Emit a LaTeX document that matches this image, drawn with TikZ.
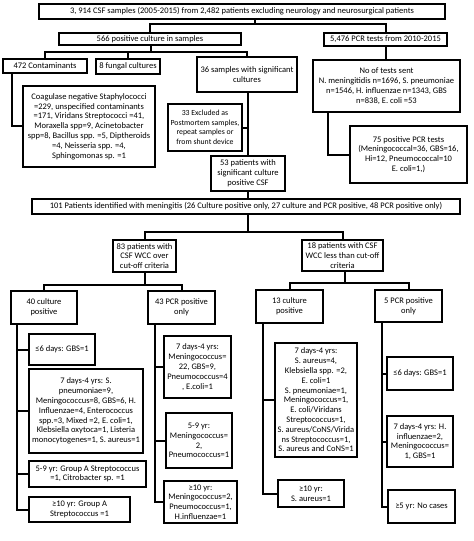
\documentclass[tikz,border=0pt]{standalone}
\usepackage{fontspec}
\setmainfont{Carlito}
\begin{document}
\begin{tikzpicture}[x=1pt,y=-1pt,
  box/.style={draw, line width=2pt, align=center, inner sep=1pt, font=\fontsize{8.5}{9.8}\selectfont},
  small/.style={font=\fontsize{7.8}{9.6}\selectfont},
  conn/.style={line width=2pt}]
\useasboundingbox[fill=white] (0,0) rectangle (474,541);
\newcommand\bx[7][]{\node[box,#1, minimum width={#5pt-#3pt}, minimum height={#6pt-#4pt}] (#2) at ({(#3+#5)/2},{(#4+#6)/2}) {#7};}
\bx{top}{39}{4}{445}{19}{3, 914 CSF samples (2005-2015) from 2,482 patients excluding neurology and neurosurgical patients}
\bx{b566}{59}{33}{241}{45}{566 positive culture in samples}
\bx{b5476}{324}{33}{447}{46}{5,476 PCR tests from 2010-2015}
\bx{b472}{3}{59}{87}{73}{472 Contaminants}
\bx{bfung}{96}{59}{160}{74}{8 fungal cultures}
\bx{b36}{197}{57}{297}{92}{36 samples with significant\\ cultures}
\bx{btests}{313}{60}{460}{112}{No of tests sent\\ N. meningitidis n=1696, S. pneumoniae\\ n=1546, H. influenzae n=1343, GBS\\ n=838, E. coli =53}
\bx{bcoag}{23}{86}{155}{167}{Coagulase negative Staphylococci\\ =229, unspecified contaminants\\ =171, Viridans Streptococci =41,\\ Moraxella spp=9, Acinetobacter\\ spp=8, Bacillus spp. =5, Diptheroids\\ =4, Neisseria spp. =4,\\ Sphingomonas sp. =1}
\bx[small]{bexcl}{168}{104}{242}{151}{33 Excluded as\\ Postmortem samples,\\ repeat samples or\\ from shunt device}
\bx{b75}{350}{126}{467}{183}{75 positive PCR tests\\ (Meningococcal=36, GBS=16,\\ Hi=12, Pneumococcal=10\\ E. coli=1,)}
\bx{b53}{211}{156}{285}{191}{53 patients with\\ significant culture\\ positive CSF}
\bx{b101}{32}{199}{460}{214}{101 Patients identified with meningitis (26 Culture positive only, 27 culture and PCR positive, 48 PCR positive only)}
\bx{b83}{113}{240}{176}{272}{83 patients with\\ CSF WCC over\\ cut-off criteria}
\bx{b18}{302}{240}{383}{271}{18 patients with CSF\\ WCC less than cut-off\\ criteria}
\bx{b40}{11}{291}{77}{324}{40 culture\\ positive}
\bx{b43}{148}{291}{215}{324}{43 PCR positive\\ only}
\bx{b13}{256}{290}{323}{323}{13 culture\\ positive}
\bx{b5pcr}{375}{290}{442}{322}{5 PCR positive\\ only}
\bx{L1}{29}{334}{95}{365}{≤6 days: GBS=1}
\bx{L2}{29}{369}{143}{453}{7 days-4 yrs: S.\\ pneumoniae=9,\\ Meningococcus=8, GBS=6, H.\\ Influenzae=4, Enterococcus\\ spp.=3, Mixed =2, E. coli=1,\\ Klebsiella oxytoca=1, Listeria\\ monocytogenes=1, S. aureus=1}
\bx{L3}{29}{461}{146}{487}{5-9 yr: Group A Streptococcus\\ =1, Citrobacter sp. =1}
\bx{L4}{29}{497}{130}{522}{≥10 yr: Group A\\ Streptococcus =1}
\bx{M1}{164}{336}{231}{398}{7 days-4 yrs:\\ Meningococcus=\\ 22, GBS=9,\\ Pneumococcus=4\\ , E.coli=1}
\bx{M2}{166}{413}{232}{468}{5-9 yr:\\ Meningococcus=\\ 2,\\ Pneumococcus=1}
\bx{M3}{164}{481}{237}{523}{≥10 yr:\\ Meningococcus=2,\\ Pneumococcus=1,\\ H.influenzae=1}
\bx{R1}{275}{343}{357}{457}{7 days-4 yrs:\\ S. aureus=4,\\ Klebsiella spp. =2,\\ E. coli=1\\ S. pneumoniae=1,\\ Meningococcus=1,\\ E. coli/Viridans\\ Streptococcus=1,\\ S. aureus/CoNS/Virida\\ ns Streptococcus=1,\\ S. aureus and CoNS=1}
\bx{R2}{278}{480}{344}{507}{≥10 yr:\\ S. aureus=1}
\bx{P1}{387}{357}{453}{390}{≤6 days: GBS=1}
\bx{P2}{387}{416}{453}{467}{7 days-4 yrs: H.\\ influenzae=2,\\ Meningococcus=\\ 1, GBS=1}
\bx{P3}{388}{490}{455}{523}{≥5 yr: No cases}
% junctions
\coordinate (j1) at (255,24);
\coordinate (j2) at (151,52);
\coordinate (j3) at (248,232);
\coordinate (j4) at (144.5,285);
\coordinate (j5) at (345,283);
\coordinate (v472) at (12,126);
\coordinate (v36) at (248,128);
\coordinate (vtest) at (328,155);
\coordinate (vl) at (17,0);
\coordinate (v43) at (155,0);
\coordinate (v13) at (263,0);
\coordinate (v5) at (382,0);
% connectors
\draw[conn] (top.south -| j1) -- (j1);
\draw[conn] (b566.north) |- (j1) -| (b5476.north);
\draw[conn] (b566.south -| j2) -- (j2);
\draw[conn] (b472.north) |- (j2) -| (b36.north);
\draw[conn] (bfung.north) -- (bfung.north |- j2);
\draw[conn] (b472.south -| v472) -- (v472) -- (bcoag.west |- v472);
\draw[conn] (b36.south -| v36) -- (b53.north -| v36);
\draw[conn] (v36) -- (bexcl.east |- v36);
\draw[conn] (b53.south -| v36) -- (b101.north -| v36);
\draw[conn] (b5476.south) -- (b5476.south |- btests.north);
\draw[conn] (btests.south -| vtest) -- (vtest) -- (b75.west |- vtest);
\draw[conn] (b101.south -| j3) -- (j3);
\draw[conn] (b83.north) |- (j3) -| (b18.north);
\draw[conn] (b83.south -| j4) -- (j4);
\draw[conn] (b40.north) |- (j4) -| (b43.north);
\draw[conn] (b18.south -| j5) -- (j5);
\draw[conn] (b13.north) |- (j5) -| (b5pcr.north);
% branches
\draw[conn] (b40.south -| vl) -- (L4.west -| vl) -- (L4.west);
\foreach \n in {L1,L2,L3} \draw[conn] (\n.west -| vl) -- (\n.west);
\draw[conn] (b43.south -| v43) -- (M3.west -| v43) -- (M3.west);
\foreach \n in {M1,M2} \draw[conn] (\n.west -| v43) -- (\n.west);
\draw[conn] (b13.south -| v13) -- (R2.west -| v13) -- (R2.west);
\draw[conn] (R1.west -| v13) -- (R1.west);
\draw[conn] (b5pcr.south -| v5) -- (P3.west -| v5) -- (P3.west);
\foreach \n in {P1,P2} \draw[conn] (\n.west -| v5) -- (\n.west);
\end{tikzpicture}
\end{document}
